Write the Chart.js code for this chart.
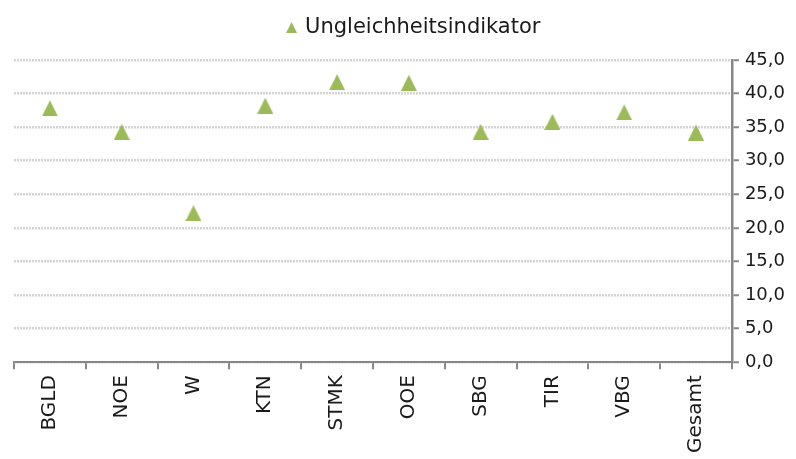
<!DOCTYPE html>
<html>
<head>
<meta charset="utf-8">
<script src="https://cdn.jsdelivr.net/npm/chart.js@4"></script>
<style>
  html, body { margin: 0; padding: 0; background: #fff; }
  #wrap { width: 796px; height: 459px; }
</style>
</head>
<body>
<div id="wrap"><canvas id="chart"></canvas></div>
<script>
// Regions and indicator values
const regions = ['BGLD', 'NOE', 'W', 'KTN', 'STMK', 'OOE', 'SBG', 'TIR', 'VBG', 'Gesamt'];
const indicator = [37.8, 34.3, 22.2, 38.2, 41.7, 41.6, 34.3, 35.8, 37.2, 34.2];
const yTicks = [0, 5, 10, 15, 20, 25, 30, 35, 40, 45];

const fontFamily = '"DejaVu Sans", sans-serif';
const axisGray = '#878787';
const green = '#9BBB59';

// triangle marker centred on its box (like the Excel marker)
function makeTriangle(w, h) {
    const c = document.createElement('canvas');
    c.width = w;
    c.height = h;
    const g = c.getContext('2d');
    g.fillStyle = green;
    g.beginPath();
    g.moveTo(w / 2, 0);
    g.lineTo(w, h);
    g.lineTo(0, h);
    g.closePath();
    g.fill();
    return c;
}
const marker = makeTriangle(16, 16);
const legendMarker = makeTriangle(11, 11);

// extra space between legend and plot, legend nudged right
const legendGap = {
    id: 'legendGap',
    beforeInit(chart) {
        const fit = chart.legend.fit;
        chart.legend.fit = function () {
            fit.call(this);
            this.height += 12;
        };
    },
    afterLayout(chart) {
        chart.legend.left += 12;
        chart.legend.right += 12;
    }
};

new Chart(document.getElementById('chart'), {
    type: 'line',
    data: {
        labels: regions,
        datasets: [{
            label: 'Ungleichheitsindikator',
            data: indicator,
            showLine: false,
            pointStyle: marker,
            backgroundColor: green,
            borderColor: green
        }]
    },
    options: {
        responsive: true,
        maintainAspectRatio: false,
        animation: false,
        layout: { padding: { left: 14, right: 5, top: 7, bottom: 0 } },
        plugins: {
            legend: {
                position: 'top',
                labels: {
                    usePointStyle: true,
                    pointStyleWidth: 6,
                    boxHeight: 8,
                    color: '#1a1a1a',
                    font: { family: fontFamily, size: 21 },
                    padding: 10,
                    generateLabels: chart => Chart.defaults.plugins.legend.labels.generateLabels(chart)
                        .map(item => Object.assign(item, { pointStyle: legendMarker }))
                }
            },
            tooltip: { enabled: false }
        },
        scales: {
            x: {
                offset: true,
                grid: {
                    offset: true,
                    drawOnChartArea: false,
                    tickLength: 7,
                    tickColor: axisGray,
                    lineWidth: 2
                },
                border: { color: axisGray, width: 2 },
                ticks: {
                    minRotation: 90,
                    maxRotation: 90,
                    padding: 6,
                    color: '#1a1a1a',
                    font: { family: fontFamily, size: 20 }
                }
            },
            y: {
                position: 'right',
                min: 0,
                max: 45,
                afterBuildTicks: axis => { axis.ticks = yTicks.map(v => ({ value: v })); },
                grid: {
                    color: '#D4D4D4',
                    lineWidth: 2.5,
                    tickColor: axisGray,
                    tickLength: 7,
                    tickWidth: 2,
                    tickBorderDash: []
                },
                border: { color: axisGray, width: 2.5, dash: [2, 1] },
                ticks: {
                    padding: 6,
                    color: '#1a1a1a',
                    font: { family: fontFamily, size: 18 },
                    callback: v => v.toFixed(1).replace('.', ',')
                }
            }
        }
    },
    plugins: [legendGap]
});
</script>
</body>
</html>
